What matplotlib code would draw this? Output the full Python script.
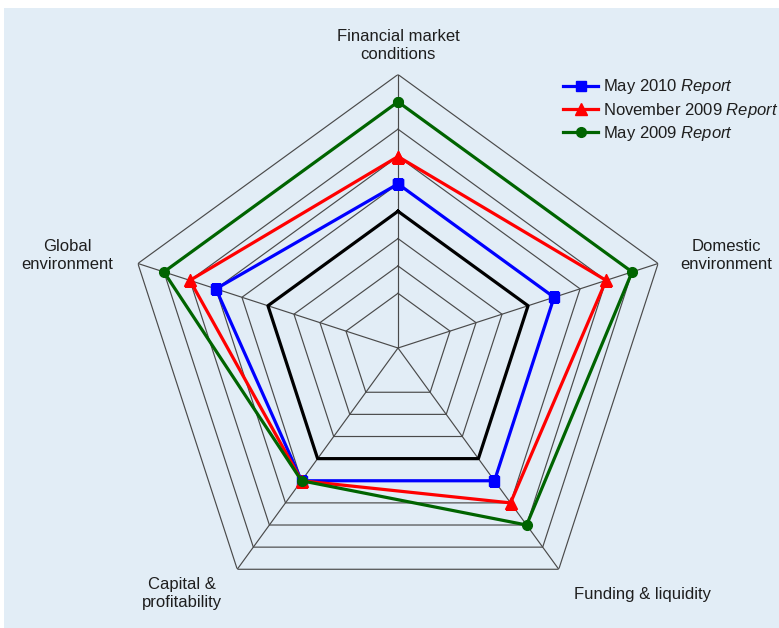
import numpy as np
import matplotlib
matplotlib.use("Agg")
import matplotlib.pyplot as plt
from matplotlib.patches import Rectangle

plt.rcParams["font.family"] = ["Liberation Sans", "DejaVu Sans"]
plt.rcParams["mathtext.fontset"] = "custom"
plt.rcParams["mathtext.rm"] = "Liberation Sans"
plt.rcParams["mathtext.it"] = "Liberation Sans:italic"

# Risk dimensions, clockwise from the top
categories = [
    "Financial market\nconditions",
    "Domestic\nenvironment",
    "Funding & liquidity",
    "Capital &\nprofitability",
    "Global\nenvironment",
]

neutral = [5, 5, 5, 5, 5]
may_2010 = [6, 6, 6, 6, 7]
nov_2009 = [7, 8, 7, 6, 8]
may_2009 = [9, 9, 8, 6, 9]

ring_levels = [2, 3, 4, 5, 6, 7, 8, 9, 10]
r_max = 10

series = [
    ("May 2010 $\\mathit{Report}$", may_2010, "#0000FF", "s", 7),
    ("November 2009 $\\mathit{Report}$", nov_2009, "#FF0000", "^", 8.5),
    ("May 2009 $\\mathit{Report}$", may_2009, "#006400", "o", 7),
]

W, H = 779, 628
bg = "#E2EDF6"
grid_col = "#4A4A4A"
text_col = "#1E1E1E"

fig = plt.figure(figsize=(W / 100, H / 100), dpi=100, facecolor="white")
fig.patches.append(Rectangle((4 / W, 0), 1 - 4 / W, 1 - 8 / H,
                             transform=fig.transFigure, facecolor=bg,
                             edgecolor="none", zorder=-10))

cx, cy, R = 398, 348, 273.5
ax = fig.add_axes([(cx - R) / W, (H - cy - R) / H, 2 * R / W, 2 * R / H],
                  projection="polar")
ax.set_theta_zero_location("N")
ax.set_theta_direction(-1)
ax.set_ylim(0, r_max)
ax.grid(False)
ax.set_xticks([])
ax.set_yticks([])
ax.spines["polar"].set_visible(False)
ax.patch.set_alpha(0)

n = len(categories)
angles = np.linspace(0, 2 * np.pi, n, endpoint=False)
closed = np.append(angles, angles[0])

# pentagon gridlines and spokes
for lvl in ring_levels:
    ax.plot(closed, [lvl] * (n + 1), color=grid_col, lw=0.85, zorder=1)
for a in angles:
    ax.plot([a, a], [0, r_max], color=grid_col, lw=0.85, zorder=1)

# neutral reference level
ax.plot(closed, np.append(neutral, neutral[0]), color="black", lw=2.3, zorder=2)

for label, vals, col, mk, ms in series:
    ax.plot(closed, np.append(vals, vals[0]), color=col, lw=2.3, marker=mk,
            markersize=ms, markeredgecolor=col, label=label, zorder=3)

# axis labels
label_pos = [(398, 45.5), (726, 255.5), (642, 594), (182, 593.5), (67, 255.5)]
for text, (x, y) in zip(categories, label_pos):
    fig.text(x / W, 1 - y / H, text, ha="center", va="center",
             fontsize=12, color=text_col, linespacing=1.22)

leg = ax.legend(loc="upper left", bbox_to_anchor=(563 / W, 1 - 77.5 / H),
                bbox_transform=fig.transFigure, frameon=False, fontsize=12,
                handlelength=2.1, handletextpad=0.3, labelspacing=0.26,
                borderpad=0, borderaxespad=0)
for t in leg.get_texts():
    t.set_color(text_col)

fig.savefig("out.png", dpi=100, facecolor=fig.get_facecolor())
